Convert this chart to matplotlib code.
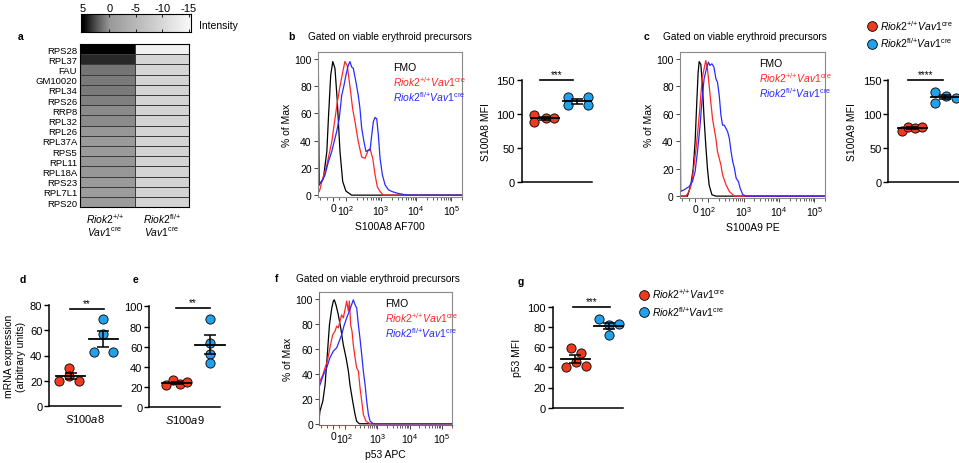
import numpy as np
import matplotlib
matplotlib.use("Agg")
import matplotlib.pyplot as plt
from matplotlib.colors import LinearSegmentedColormap, Normalize
from matplotlib.lines import Line2D
from matplotlib.ticker import FixedLocator

plt.rcParams["font.family"] = ["Liberation Sans", "DejaVu Sans"]
plt.rcParams["mathtext.fontset"] = "custom"
plt.rcParams["mathtext.rm"] = "Liberation Sans"
plt.rcParams["mathtext.it"] = "Liberation Sans:italic"
plt.rcParams["mathtext.bf"] = "Liberation Sans:bold"

# ---------------- data ----------------
genes = ["RPS28", "RPL37", "FAU", "GM10020", "RPL34", "RPS26", "RRP8", "RPL32",
         "RPL26", "RPL37A", "RPS5", "RPL11", "RPL18A", "RPS23", "RPL7L1", "RPS20"]
wt_intensity = [5.0, 3.8, 1.3, 1.1, 1.1, 0.9, 0.5, 0.5, 0.0, -0.2, -0.2, 0.0, 0.0, -0.2, -0.5, -0.5]
het_intensity = [-14.0, -9.6, -9.5, -9.3, -9.3, -9.3, -9.3, -9.3, -9.3, -9.3, -9.3, -9.3, -9.3, -9.3, -9.3, -9.3]
cbar_ticks = [5, 0, -5, -10, -15]

# flow histograms: x = fluorescence, y = % of max
b_fmo_x = [-115, -100, -75, -48, -36, -18, -2, 15, 33, 54, 75, 100, 145, 2e5]
b_fmo_y = [6, 8.8, 12, 32, 56, 88, 98, 93, 69, 32, 10, 3, 0, 0]
b_wt_x = [-115, -105, -87, -48, -10, 15, 33, 54, 75, 92, 109, 130, 155, 181, 225, 281, 349, 433, 485,
          579, 673, 783, 935, 1160, 2e5]
b_wt_y = [2, 2.7, 10, 22, 39, 56, 68, 80, 90, 98, 95, 80, 63.5, 54, 39, 28, 27, 33, 34, 27, 15, 6, 2.7, 0, 0]
b_het_x = [-115, -113, -105, -87, -62, -36, -10, 8, 28, 48, 67, 85, 100, 116, 130, 146, 162, 193, 225, 251,
           281, 327, 373, 433, 485, 542, 603, 673, 752, 837, 935, 1090, 1300, 1620, 2020, 2800, 5400, 2e5]
b_het_y = [100, 100, 8, 10, 14.8, 24.6, 31.9, 39, 46.5, 56, 73, 80.5, 88, 95, 98, 94, 93, 83, 73, 63.5,
           49, 39, 31.9, 33, 33, 44, 54, 57, 56, 44, 27, 14.8, 7.5, 3.9, 2.7, 1.5, 0, 0]

c_fmo_x = [-115, -59, -33, -15, 0, 13, 23, 31, 44, 56, 69, 82, 95, 107, 128, 166, 2e5]
c_fmo_y = [0, 0, 8.2, 20, 40, 69, 90, 98, 96, 81, 56.5, 37, 20, 8, 1, 0, 0]
c_wt_x = [-115, -72, -46, -25, -8, 10, 25, 36, 46, 56, 69, 82, 95, 107, 119, 133, 148, 166, 184, 206,
          230, 256, 320, 398, 553, 2e5]
c_wt_y = [0, 0, 3.4, 10.6, 22.7, 37, 51.7, 63.8, 75.9, 86.7, 92.8, 98.8, 92.8, 80.7, 68.6, 56.5, 49.3,
          42, 32.4, 27.5, 22.7, 15.5, 8.2, 3.4, 0, 0]
c_het_x = [-115, -113, -110, -85, -46, -21, 0, 18, 36, 52, 69, 87, 102, 112, 128, 146, 166, 184, 206, 230,
           256, 286, 320, 356, 398, 445, 496, 553, 619, 718, 802, 954, 1195, 2e5]
c_het_y = [62, 62, 3.4, 4.6, 7, 10.6, 17.9, 32.4, 49.3, 68.6, 85.5, 92.8, 97.6, 95.2, 96.4, 94, 85.5, 83,
           73.4, 59, 51.7, 51.7, 49.3, 46.9, 42, 32.4, 25.1, 20.3, 13.1, 10.6, 5.8, 1, 0, 0]

f_fmo_x = [-115, -110, -87, -68, -49, -31, -11, 2, 10, 24, 44, 64, 86, 108, 127, 143, 173, 205, 230, 278, 2e5]
f_fmo_y = [5, 10, 18, 31, 55, 79, 92.6, 98, 99, 95, 87, 76.6, 63, 52.7, 42.3, 31, 18, 7.4, 2, 0, 0]
f_wt_x = [-115, -110, -87, -68, -49, -27, -4, 16, 30, 44, 58, 72, 86, 100, 113, 127, 137, 150, 165, 181,
          205, 230, 260, 292, 330, 370, 447, 600, 2e5]
f_wt_y = [35, 34, 39, 44.7, 50, 60.7, 71, 74, 78, 76.6, 82, 87, 84.6, 91, 98, 90, 98, 79, 74, 63,
          52.7, 44.7, 42, 28.7, 18, 7.4, 2, 0, 0]
f_het_x = [-115, -110, -82, -54, -27, 2, 30, 52, 72, 91, 113, 137, 160, 181, 205, 230, 260, 292, 330, 370,
           420, 470, 530, 600, 760, 2e5]
f_het_y = [30, 31, 39, 44.7, 52.7, 58, 60.7, 66, 71, 78, 84.6, 90, 95, 99, 95, 92.6, 79, 68, 55, 42,
           31, 18, 7.4, 2, 0, 0]

flow_ticks = [0, 1e2, 1e3, 1e4, 1e5]
flow_ticklabels = ["0", r"$10^2$", r"$10^3$", r"$10^4$", r"$10^5$"]

# dot plots: values and horizontal positions within each group
b_wt = [98, 89, 94, 94]
b_wt_pos = [0.65, 0.65, 1.02, 1.27]
b_het = [124.6, 113, 124.6, 113]
b_het_pos = [1.71, 1.71, 2.33, 2.33]

c_wt = [75.5, 81, 79.5, 81]
c_wt_pos = [0.69, 0.89, 1.09, 1.29]
c_het = [133, 116, 126.6, 124.3]
c_het_pos = [1.70, 1.70, 2.03, 2.33]

d_wt = [20, 30, 24, 20]
d_wt_pos = [0.66, 0.95, 0.95, 1.26]
d_het = [69, 57, 42.5, 43]
d_het_pos = [2.0, 2.0, 1.70, 2.30]

e_wt = [22, 27, 23, 25]
e_wt_pos = [0.67, 0.89, 1.11, 1.30]
e_het = [87, 64, 53, 44]
e_het_pos = [2.0, 2.0, 2.0, 2.0]

g_wt = [40.5, 59.5, 54, 45.5, 41]
g_wt_pos = [0.71, 0.86, 1.16, 1.02, 1.32]
g_het = [87.5, 81.5, 83, 72]
g_het_pos = [1.71, 2.01, 2.32, 2.01]

WT = r"$\mathit{Riok2}^{{+}/{+}}\mathit{Vav1}^{\mathrm{cre}}$"
HET = r"$\mathit{Riok2}^{\mathrm{fl}/{+}}\mathit{Vav1}^{\mathrm{cre}}$"

RED = "#ef3a1f"
BLUE = "#22a0ea"
HRED = "#ff2626"
HBLUE = "#2a2aff"

W, H = 959, 464
fig = plt.figure(figsize=(W / 100, H / 100), dpi=100)


def box(x0, y0, x1, y1):
    return fig.add_axes([x0 / W, 1 - y1 / H, (x1 - x0) / W, (y1 - y0) / H])


def put(x, y, s, **kw):
    kw.setdefault("fontsize", 7.5)
    kw.setdefault("va", "center")
    fig.text(x / W, 1 - y / H, s, **kw)


# ---------------- a: heatmap ----------------
cmap = LinearSegmentedColormap.from_list(
    "intensity", [(0, "#f7f7f7"), (0.75, "#999999"), (0.875, "#555555"), (1, "#000000")])
norm = Normalize(vmin=-15, vmax=5)

ax = box(80, 45, 189.3, 208.3)
M = np.column_stack([wt_intensity, het_intensity])
ax.pcolormesh(M, cmap=cmap, norm=norm, edgecolors="#3c3c3c", linewidth=0.5)
ax.set_xlim(0, 2)
ax.set_ylim(len(genes), 0)
ax.set_yticks(np.arange(len(genes)) + 0.5)
ax.set_yticklabels(genes, fontsize=6.8)
ax.set_xticks([])
ax.tick_params(length=0, pad=2)
for s in ax.spines.values():
    s.set_linewidth(0.8)

put(105, 225.5, r"$\mathit{Riok2}^{{+}/{+}}$" + "\n" + r"$\mathit{Vav1}^{\mathrm{cre}}$",
    ha="center", linespacing=1.0)
put(162, 225.5, r"$\mathit{Riok2}^{\mathrm{fl}/{+}}$" + "\n" + r"$\mathit{Vav1}^{\mathrm{cre}}$",
    ha="center", linespacing=1.0)

cax = box(80.7, 15, 190.7, 32.7)
grad = np.linspace(5.4, -15.4, 300)[None, :]
cax.imshow(grad, extent=[5.4, -15.4, 0, 1], aspect="auto", cmap=cmap, norm=norm)
cax.set_xlim(5.4, -15.4)
cax.set_yticks([])
cax.set_xticks(cbar_ticks)
cax.set_xticklabels([str(t) for t in cbar_ticks])
cax.xaxis.tick_top()
cax.tick_params(axis="x", direction="in", length=2, width=0.6, top=True, bottom=True,
                labeltop=True, labelbottom=False, labelsize=8, pad=0.8)
for s in cax.spines.values():
    s.set_linewidth(0.8)
put(199, 26, "Intensity", fontsize=7.5)


# ---------------- flow histograms ----------------
flow_minor = [-100, -50, 50] + [k * 10.0 ** e for e in (2, 3, 4) for k in range(2, 10)] + [2e5]


def flow_panel(rect, curves, xlabel, leg_x, leg_y, step):
    ax = box(*rect)
    for (x, y), col in zip(curves, ["black", HRED, HBLUE]):
        ax.plot(x, y, color=col, lw=0.9)
    ax.set_xscale("symlog", linthresh=100, linscale=0.33)
    ax.set_xlim(-115, 2e5)
    ax.set_ylim(-1, 105)
    ax.set_xticks(flow_ticks)
    ax.set_xticklabels(flow_ticklabels)
    ax.xaxis.set_minor_locator(FixedLocator(flow_minor))
    ax.set_yticks(range(0, 101, 20))
    ax.tick_params(labelsize=7.5, length=3, width=0.7, pad=1.5, color="#444444")
    ax.tick_params(which="minor", length=2, width=0.6, color="#444444")
    for s in ax.spines.values():
        s.set_color("#8a8a8a")
        s.set_linewidth(0.8)
    ax.set_ylabel("% of Max", fontsize=7.5, labelpad=2)
    ax.set_xlabel(xlabel, fontsize=7.5, labelpad=3)
    put(leg_x, leg_y, "FMO")
    put(leg_x, leg_y + step, WT, color=HRED)
    put(leg_x, leg_y + 2 * step, HET, color=HBLUE)
    return ax


flow_panel((318, 53, 462, 197.5), [(b_fmo_x, b_fmo_y), (b_wt_x, b_wt_y), (b_het_x, b_het_y)],
           "S100A8 AF700", 393, 68, 14.5)
flow_panel((680, 53, 825, 198.5), [(c_fmo_x, c_fmo_y), (c_wt_x, c_wt_y), (c_het_x, c_het_y)],
           "S100A9 PE", 759, 64, 14.5)
ax_f = flow_panel((319.3, 293.3, 451.7, 426), [(f_fmo_x, f_fmo_y), (f_wt_x, f_wt_y), (f_het_x, f_het_y)],
                  "p53 APC", 385, 304, 14.5)
ax_f.spines["left"].set_color("#c8409c")
ax_f.spines["bottom"].set_color("#e0403c")


# ---------------- dot plots ----------------
def dot_panel(rect, ylim, yticks, wt, wt_pos, het, het_pos, xlim, sig, sig_x, sig_y,
              ylabel, xlabel=None, ylabelpad=4):
    ax = box(*rect)
    ax.scatter(wt_pos, wt, s=44, color=RED, edgecolor="black", linewidth=0.6, zorder=3, clip_on=False)
    ax.scatter(het_pos, het, s=44, color=BLUE, edgecolor="black", linewidth=0.6, zorder=3, clip_on=False)
    for vals, xc in ((wt, 1), (het, 2)):
        m = np.mean(vals)
        se = np.std(vals, ddof=1) / np.sqrt(len(vals))
        ax.plot([xc - 0.44, xc + 0.44], [m, m], color="black", lw=1.3, zorder=4, clip_on=False)
        ax.errorbar(xc, m, yerr=se, color="black", lw=1.1, capsize=4, capthick=1.1, zorder=4)
    ax.plot(sig_x, [sig_y, sig_y], color="black", lw=1.2, clip_on=False)
    ax.text(np.mean(sig_x), sig_y + (ylim[1] - ylim[0]) * 0.01, sig, ha="center", va="bottom",
            fontsize=7)
    ax.set_xlim(*xlim)
    ax.set_ylim(*ylim)
    ax.set_xticks([])
    ax.set_yticks(yticks)
    ax.spines[["top", "right"]].set_visible(False)
    for s in ("left", "bottom"):
        ax.spines[s].set_linewidth(1.1)
    ax.tick_params(labelsize=8, length=3.5, width=1.0, pad=1.5)
    ax.set_ylabel(ylabel, fontsize=7.5, labelpad=ylabelpad)
    if xlabel:
        ax.set_xlabel(xlabel, fontsize=8, labelpad=4)
    return ax


dot_panel((521.7, 81, 591.7, 183.3), (0, 150), [0, 50, 100, 150], b_wt, b_wt_pos, b_het, b_het_pos,
          (0.26, 2.45), "***", [0.83, 1.87], 150, "S100A8 MFI")
dot_panel((888.3, 81, 960, 183.3), (0, 150), [0, 50, 100, 150], c_wt, c_wt_pos, c_het, c_het_pos,
          (0.28, 2.45), "****", [0.89, 1.93], 150, "S100A9 MFI")
dot_panel((49.3, 305.7, 120.7, 407.3), (0, 80), [0, 20, 40, 60, 80], d_wt, d_wt_pos, d_het, d_het_pos,
          (0.35, 2.53), "**", [0.98, 2.02], 76.5, "mRNA expression\n(arbitrary units)",
          xlabel=r"$\mathit{S100a8}$", ylabelpad=3)
dot_panel((149.3, 307.3, 220, 408.3), (0, 100), [0, 20, 40, 60, 80, 100], e_wt, e_wt_pos, e_het, e_het_pos,
          (0.18, 2.3), "**", [0.98, 2.0], 98, "", xlabel=r"$\mathit{S100a9}$")
dot_panel((552.7, 307.7, 622.7, 408.7), (0, 100), [0, 20, 40, 60, 80, 100], g_wt, g_wt_pos, g_het, g_het_pos,
          (0.32, 2.42), "***", [0.93, 2.04], 100, "p53 MFI")

# group legends
handles = [Line2D([], [], marker="o", ls="none", markersize=7, markerfacecolor=c,
                  markeredgecolor="black", markeredgewidth=0.6) for c in (RED, BLUE)]
for lx, ly in ((868, 19), (640, 287.5)):
    fig.legend(handles, [WT, HET], loc="upper left", bbox_to_anchor=(lx / W, 1 - ly / H),
               frameon=False, fontsize=7.5, handlelength=0.8, handletextpad=0.4,
               labelspacing=0.35, borderpad=0, borderaxespad=0)

# titles and panel letters
put(308, 37, "Gated on viable erythroid precursors", fontsize=7.3)
put(663, 37, "Gated on viable erythroid precursors", fontsize=7.3)
put(296, 279, "Gated on viable erythroid precursors", fontsize=7.3)
for letter, lx, ly in (("a", 18, 37), ("b", 288, 37), ("c", 644, 37), ("d", 20, 280),
                       ("e", 133, 280), ("f", 275, 279), ("g", 518, 282)):
    put(lx, ly, letter, fontsize=7.5, fontweight="bold")

fig.savefig("out.png", dpi=100)
